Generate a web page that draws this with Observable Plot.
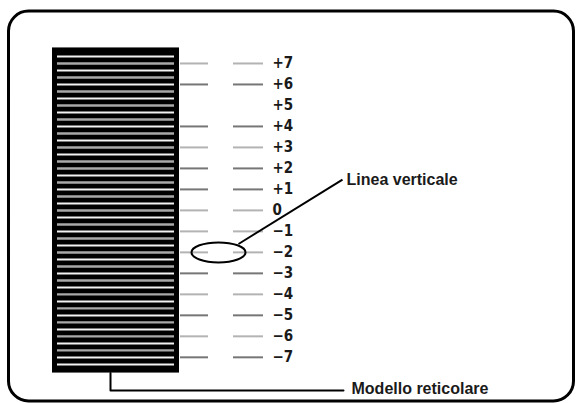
<!DOCTYPE html>
<html><head><meta charset="utf-8">
<script src="https://cdn.jsdelivr.net/npm/d3@7"></script>
<script src="https://cdn.jsdelivr.net/npm/@observablehq/plot@0.6"></script>
<style>body{margin:0;background:#fff}#chart svg{display:block}</style>
</head><body><div id="chart"></div>
<script>
// ---- data ----
const levels = [7, 6, 5, 4, 3, 2, 1, 0, -1, -2, -3, -4, -5, -6, -7];
const levelLabels = ["+7", "+6", "+5", "+4", "+3", "+2", "+1", "0", "−1", "−2", "−3", "−4", "−5", "−6", "−7"];
const tickShade = ["light", "dark", "none", "dark", "light", "dark", "dark", "light", "light", "light", "dark", "light", "dark", "light", "dark"];
const stripeShade = ["w","g","w","g","w","g","w","g","w","g","w","g","w","g","w","g","g","w","g","w","g","w","g","w","g","w","g","w","g","w","g","w","g","w","g","w","g","w","g","w","g","w","g","w","w"];
const markedLevel = -2;
const calloutLabels = ["Linea verticale", "Modello reticolare"];

// ---- layout (px on x, grid levels on y) ----
const L = {
  frame: {x1: 8.5, x2: 573.5, y1: 9.47, y2: -9.1, r: 20},
  grid: {x1: 52, x2: 179, y1: 7.74, y2: -7.75, sx1: 57, sx2: 174, top: 7.33, step: 1 / 3},
  tickL: [180, 208], tickR: [233, 263], labelX: 272,
  ellipse: {x: 218, rx: 27, ry: 10},
  callout: {x1: 238, y1: -1.6, x2: 342, y2: 1.47, tx: 346, ty: 1.45},
  bracket: {x: 110, yb: -8.58, x2: 343, tx: 351, ty: -8.5}
};
const shadeColor = {light: "#b3b3b3", dark: "#767676", w: "#f2f2f2", g: "#a9a9a9"};

const ticks = levels.map((v, i) => ({v, label: levelLabels[i], shade: tickShade[i]}));
const tickSegs = ticks.filter(d => d.shade !== "none").flatMap(d => [
  {y: d.v, x1: L.tickL[0], x2: L.tickL[1], c: shadeColor[d.shade]},
  {y: d.v, x1: L.tickR[0], x2: L.tickR[1], c: shadeColor[d.shade]}
]);
const stripes = stripeShade.map((s, k) => ({y: L.grid.top - k * L.grid.step, c: shadeColor[s], w: s === "g" ? 2.4 : 2}));

const k = 0.5523;
const ellipseSymbol = {
  draw(ctx) {
    const rx = L.ellipse.rx, ry = L.ellipse.ry;
    ctx.moveTo(rx, 0);
    ctx.bezierCurveTo(rx, ry * k, rx * k, ry, 0, ry);
    ctx.bezierCurveTo(-rx * k, ry, -rx, ry * k, -rx, 0);
    ctx.bezierCurveTo(-rx, -ry * k, -rx * k, -ry, 0, -ry);
    ctx.bezierCurveTo(rx * k, -ry, rx, -ry * k, rx, 0);
    ctx.closePath();
  }
};

const font = "'Liberation Sans', Arial, sans-serif";
const narrow = "'Liberation Sans Narrow', 'DejaVu Sans Condensed', 'Liberation Sans', sans-serif";

const chart = Plot.plot({
  width: 576, height: 403,
  margin: 0,
  style: {background: "#fff", fontFamily: font},
  x: {domain: [0, 576], range: [0, 576], axis: null},
  y: {domain: [-9.2, 10], range: [403, 0], axis: null},
  marks: [
    Plot.rect([L.frame], {x1: "x1", x2: "x2", y1: "y1", y2: "y2", rx: L.frame.r, fill: "none", stroke: "#000", strokeWidth: 3}),
    Plot.rect([L.grid], {x1: "x1", x2: "x2", y1: "y1", y2: "y2", fill: "#000"}),
    Plot.ruleY(stripes, {y: "y", x1: L.grid.sx1, x2: L.grid.sx2, stroke: "c", strokeWidth: "w"}),
    Plot.ruleY(tickSegs, {y: "y", x1: "x1", x2: "x2", stroke: "c", strokeWidth: 2}),
    Plot.text(ticks, {x: L.labelX, y: "v", text: "label", textAnchor: "start", fontSize: 15, fontFamily: narrow, fill: "#1a1a1a", fontWeight: "bold"}),
    Plot.dot([{x: L.ellipse.x, y: markedLevel}], {x: "x", y: "y", symbol: ellipseSymbol, r: 10, fill: "none", stroke: "#000", strokeWidth: 2}),
    Plot.link([L.callout], {x1: "x1", y1: "y1", x2: "x2", y2: "y2", stroke: "#000", strokeWidth: 2}),
    Plot.text([L.callout], {x: "tx", y: "ty", text: () => calloutLabels[0], textAnchor: "start", fontSize: 16, fill: "#1a1a1a", fontWeight: "bold"}),
    Plot.line([{x: L.bracket.x, y: L.grid.y2}, {x: L.bracket.x, y: L.bracket.yb}, {x: L.bracket.x2, y: L.bracket.yb}], {x: "x", y: "y", stroke: "#000", strokeWidth: 2}),
    Plot.text([L.bracket], {x: "tx", y: "ty", text: () => calloutLabels[1], textAnchor: "start", fontSize: 16, fill: "#1a1a1a", fontWeight: "bold"})
  ]
});
document.getElementById("chart").appendChild(chart);
</script>
</body></html>
